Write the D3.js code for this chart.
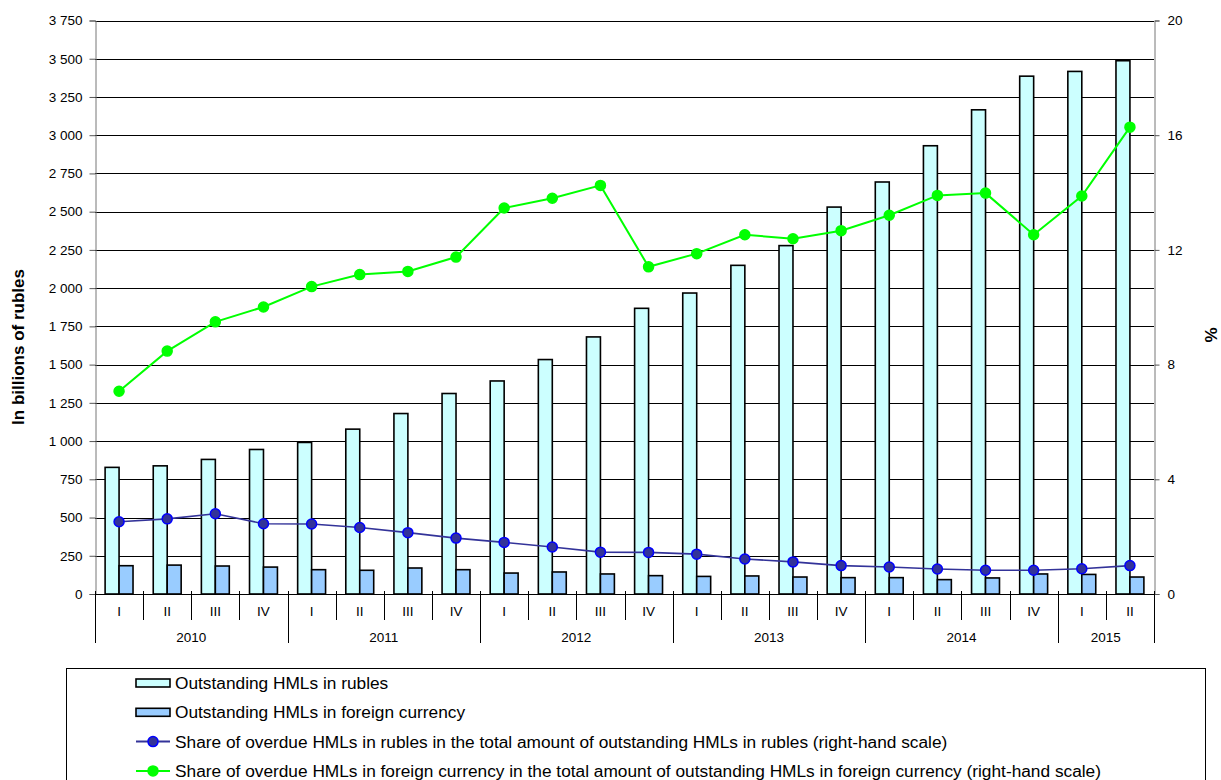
<!DOCTYPE html>
<html>
<head>
<meta charset="utf-8">
<script src="https://cdn.jsdelivr.net/npm/d3@7/dist/d3.min.js"></script>
<style>
	body { margin: 0; background: #fff; }
	text { font-family: "Liberation Sans", Arial, sans-serif; fill: #000; }
</style>
</head>
<body>
<svg id="chart" width="1221" height="780"></svg>
<script>
// quarters, 2010 Q1 .. 2015 Q2
var quarters = ["I","II","III","IV","I","II","III","IV","I","II","III","IV",
	"I","II","III","IV","I","II","III","IV","I","II"];
var years = ["2010","2011","2012","2013","2014","2015"];
var yearLength = [4, 4, 4, 4, 4, 2];

// billions of rubles (left scale)
var rubles  = [828, 838, 880, 945, 991, 1078, 1180, 1311, 1393, 1533, 1681, 1868,
	1968, 2149, 2278, 2530, 2694, 2931, 3166, 3386, 3417, 3487];
var foreign = [185, 189, 183, 176, 159, 155, 170, 159, 137, 144, 131, 120,
	115, 118, 111, 107, 107, 94, 105, 131, 128, 111];

// % (right scale)
var shareRub = [2.52, 2.62, 2.80, 2.45, 2.44, 2.32, 2.14, 1.95, 1.80, 1.64, 1.46, 1.45,
	1.39, 1.22, 1.12, 0.99, 0.94, 0.87, 0.83, 0.83, 0.88, 0.99];
var shareFx  = [7.07, 8.47, 9.49, 10.01, 10.72, 11.14, 11.25, 11.75, 13.46, 13.80, 14.25, 11.41,
	11.87, 12.53, 12.39, 12.67, 13.21, 13.90, 13.98, 12.53, 13.88, 16.28];

var leftTicks = d3.range(0, 3751, 250);
var rightTicks = [0, 4, 8, 12, 16, 20];

var legendItems = [
	{ label: "Outstanding HMLs in rubles", type: "bar", fill: "#ccffff" },
	{ label: "Outstanding HMLs in foreign currency", type: "bar", fill: "#99ccff" },
	{ label: "Share of overdue HMLs in rubles in the total amount of outstanding HMLs in rubles (right-hand scale)", type: "line", color: "#333399", marker: "#333399", markerStroke: "#0000ff" },
	{ label: "Share of overdue HMLs in foreign currency in the total amount of outstanding HMLs in foreign currency (right-hand scale)", type: "line", color: "#00ff00", marker: "#00ff00", markerStroke: "#00ff00" }
];

var plotL = 95, plotR = 1154, plotT = 20.5, plotB = 594;
var svg = d3.select("#chart");
var fmt = d3.formatLocale({ decimal: ",", thousands: " ", grouping: [3], currency: ["", ""] }).format(",d");

var idx = d3.range(quarters.length);
var x = d3.scaleBand().domain(idx).range([plotL, plotR]).paddingInner(0.42).paddingOuter(0.21);
var xSub = d3.scaleBand().domain(["rub", "fx"]).range([0, x.bandwidth()]);
var step = x.step();
var yL = d3.scaleLinear().domain([0, 3750]).range([plotB, plotT]);
var yR = d3.scaleLinear().domain([0, 20]).range([plotB, plotT]);

// gridlines
svg.append("g").selectAll("line").data(leftTicks.slice(1)).join("line")
	.attr("x1", plotL).attr("x2", plotR)
	.attr("y1", function (d) { return Math.round(yL(d)) + 0.5; })
	.attr("y2", function (d) { return Math.round(yL(d)) + 0.5; })
	.attr("stroke", "#000").attr("stroke-width", 1);

// left axis
var gL = svg.append("g").attr("transform", "translate(" + (plotL + 0.5) + ",0)")
	.call(d3.axisLeft(yL).tickValues(leftTicks).tickFormat(fmt).tickSize(6).tickPadding(7));
gL.select(".domain").attr("stroke", "#777");
gL.selectAll(".tick line").attr("stroke", "#555");
gL.selectAll("text").attr("font-size", "13.5px").attr("fill", "#000").attr("font-family", "Liberation Sans, Arial, sans-serif");

// right axis
var gR = svg.append("g").attr("transform", "translate(" + (plotR + 0.5) + ",0)")
	.call(d3.axisRight(yR).tickValues(rightTicks).tickSize(5).tickPadding(8));
gR.select(".domain").attr("stroke", "#777");
gR.selectAll(".tick line").attr("stroke", "#555");
gR.selectAll("text").attr("font-size", "13.5px").attr("fill", "#000").attr("font-family", "Liberation Sans, Arial, sans-serif");

// bars
var bars = svg.append("g");
bars.selectAll("rect.rub").data(idx).join("rect").attr("class", "rub")
	.attr("x", function (i) { return x(i) + xSub("rub"); })
	.attr("y", function (i) { return yL(rubles[i]); })
	.attr("width", xSub.bandwidth())
	.attr("height", function (i) { return yL(0) - yL(rubles[i]); })
	.attr("fill", "#ccffff").attr("stroke", "#000").attr("stroke-width", 1.6);
bars.selectAll("rect.fx").data(idx).join("rect").attr("class", "fx")
	.attr("x", function (i) { return x(i) + xSub("fx"); })
	.attr("y", function (i) { return yL(foreign[i]); })
	.attr("width", xSub.bandwidth())
	.attr("height", function (i) { return yL(0) - yL(foreign[i]); })
	.attr("fill", "#99ccff").attr("stroke", "#000").attr("stroke-width", 1.6);

// category axis
var cx = function (i) { return x(i) + x.bandwidth() / 2; };
var gX = svg.append("g");
gX.append("line").attr("x1", plotL).attr("x2", plotR).attr("y1", plotB + 0.5).attr("y2", plotB + 0.5)
	.attr("stroke", "#000").attr("stroke-width", 1.2);
var bounds = d3.range(quarters.length + 1);
var yearBounds = [0];
yearLength.forEach(function (n) { yearBounds.push(yearBounds[yearBounds.length - 1] + n); });
gX.selectAll("line.q").data(bounds).join("line").attr("class", "q")
	.attr("x1", function (b) { return Math.round(plotL + b * step) + 0.5; })
	.attr("x2", function (b) { return Math.round(plotL + b * step) + 0.5; })
	.attr("y1", plotB - 3)
	.attr("y2", function (b) { return yearBounds.indexOf(b) >= 0 ? 643 : 620; })
	.attr("stroke", "#000").attr("stroke-width", 1);
gX.selectAll("text.q").data(idx).join("text").attr("class", "q")
	.attr("x", cx).attr("y", 616).attr("text-anchor", "middle").attr("font-size", "13.5px")
	.text(function (i) { return quarters[i]; });
gX.selectAll("text.y").data(years).join("text").attr("class", "y")
	.attr("x", function (d, k) { return plotL + (yearBounds[k] + yearBounds[k + 1]) / 2 * step; })
	.attr("y", 642).attr("text-anchor", "middle").attr("font-size", "13.5px")
	.text(function (d) { return d; });

// lines
function drawLine(values, color, width, marker, markerStroke) {
	var line = d3.line().x(function (d, i) { return cx(i); }).y(function (d) { return yR(d); });
	svg.append("path").datum(values).attr("d", line)
		.attr("fill", "none").attr("stroke", color).attr("stroke-width", width);
	svg.append("g").selectAll("circle").data(values).join("circle")
		.attr("cx", function (d, i) { return cx(i); })
		.attr("cy", function (d) { return yR(d); })
		.attr("r", 5).attr("fill", marker).attr("stroke", markerStroke).attr("stroke-width", 1.5);
}
drawLine(shareRub, "#333399", 1.6, "#333399", "#0000ff");
drawLine(shareFx, "#00ff00", 2, "#00ff00", "#00ff00");

// axis titles
svg.append("text").attr("transform", "translate(24,347) rotate(-90)")
	.attr("text-anchor", "middle").attr("font-size", "17px").attr("font-weight", "bold")
	.text("In billions of rubles");
svg.append("text").attr("transform", "translate(1217,335) rotate(-90)")
	.attr("text-anchor", "middle").attr("font-size", "17px").attr("font-weight", "bold")
	.text("%");

// legend
var lg = svg.append("g");
lg.append("rect").attr("x", 66.5).attr("y", 668.5).attr("width", 1139).attr("height", 130)
	.attr("fill", "#fff").attr("stroke", "#000").attr("stroke-width", 1);
var rows = lg.selectAll("g.row").data(legendItems).join("g").attr("class", "row")
	.attr("transform", function (d, i) { return "translate(0," + (683 + i * 29.3) + ")"; });
rows.each(function (d) {
	var g = d3.select(this);
	if (d.type === "bar") {
		g.append("rect").attr("x", 136).attr("y", -4).attr("width", 34).attr("height", 8)
			.attr("fill", d.fill).attr("stroke", "#000").attr("stroke-width", 1.6);
	} else {
		g.append("line").attr("x1", 136).attr("x2", 170).attr("y1", 0).attr("y2", 0)
			.attr("stroke", d.color).attr("stroke-width", 2);
		g.append("circle").attr("cx", 153).attr("cy", 0).attr("r", 5)
			.attr("fill", d.marker).attr("stroke", d.markerStroke).attr("stroke-width", 1.5);
	}
	g.append("text").attr("x", 175).attr("y", 6).attr("font-size", "17.3px").text(d.label);
});
</script>
</body>
</html>
